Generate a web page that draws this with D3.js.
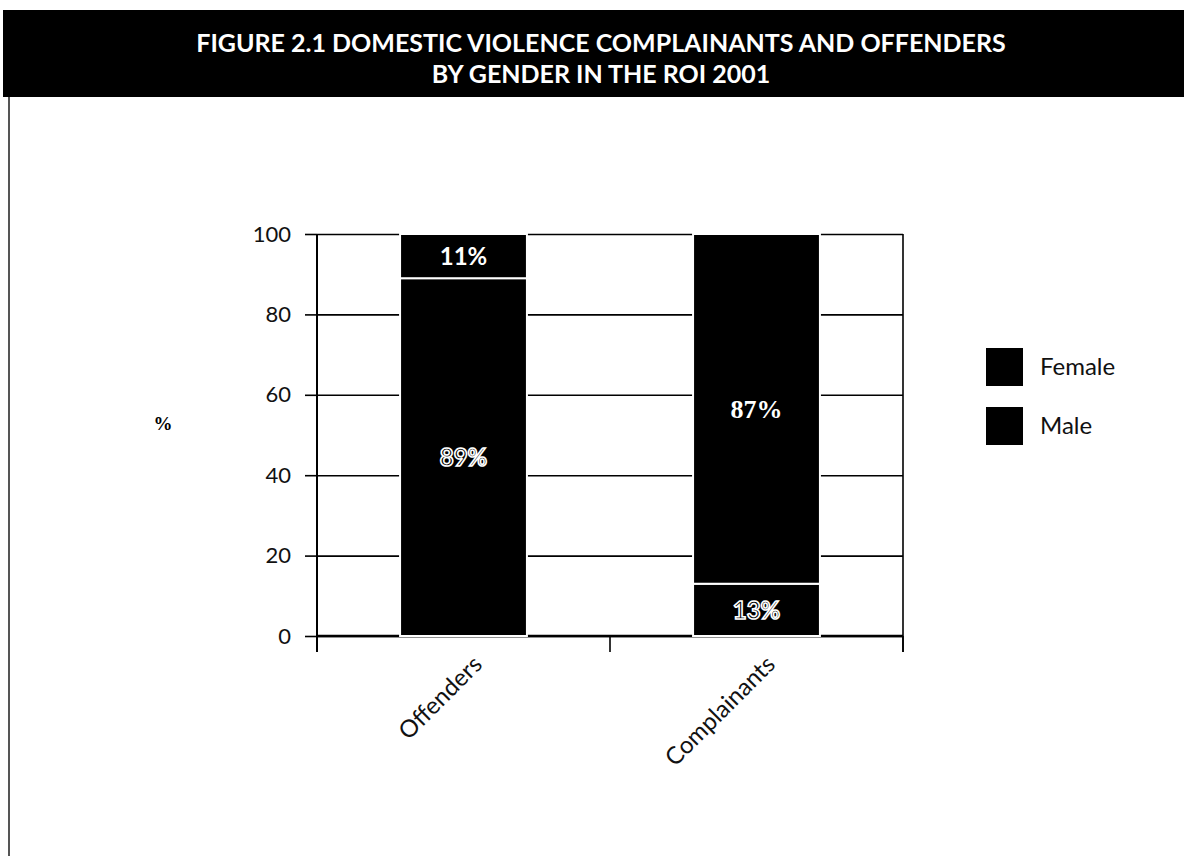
<!DOCTYPE html>
<html>
<head>
<meta charset="utf-8">
<script src="https://cdn.jsdelivr.net/npm/d3@7"></script>
<style>
  body { margin: 0; background: #fff; }
  svg { display: block; }
  .tick text { font-family: Lato, "Open Sans", sans-serif; }
</style>
</head>
<body>
<div id="chart"></div>
<script>
;(function () {
    // data
    const categories = ["Offenders", "Complainants"];
    const maleValues = [89, 13];
    const femaleValues = [11, 87];
    const maleLabels = ["89%", "13%"];
    const femaleLabels = ["11%", "87%"];
    const yTicks = [0, 20, 40, 60, 80, 100];
    const legendNames = ["Female", "Male"];
    const titleLines = ["FIGURE 2.1 DOMESTIC VIOLENCE COMPLAINANTS AND OFFENDERS", "BY GENDER IN THE ROI 2001"];

    const W = 1184, H = 856;
    const plot = { left: 317, right: 903, top: 234, bottom: 636 };

    const svg = d3.select("#chart")
        .append("svg")
        .attr("width", W)
        .attr("height", H);

    // title band
    svg.append("rect")
        .attr("x", 3).attr("y", 10)
        .attr("width", W - 3).attr("height", 87)
        .attr("fill", "#000");

    svg.selectAll(".title")
        .data(titleLines)
        .enter()
        .append("text")
        .attr("class", "title")
        .attr("x", 601)
        .attr("y", (d, i) => 52 + i * 31)
        .attr("text-anchor", "middle")
        .attr("fill", "#fff")
        .style("font-family", "Lato, 'Open Sans', sans-serif")
        .style("font-weight", "bold")
        .style("font-size", "25px")
        .text(d => d);

    // left frame line
    svg.append("line")
        .attr("x1", 9).attr("x2", 9)
        .attr("y1", 97).attr("y2", H)
        .attr("stroke", "#555")
        .attr("stroke-width", 2);

    const x = d3.scaleBand()
        .domain(categories)
        .range([plot.left, plot.right])
        .paddingInner(0.567)
        .paddingOuter(0.2835);

    const y = d3.scaleLinear()
        .domain([0, 100])
        .range([plot.bottom, plot.top]);

    // gridlines
    svg.append("g")
        .attr("class", "grid")
        .attr("transform", "translate(" + plot.left + ",0)")
        .call(d3.axisLeft(y).tickValues(yTicks).tickSize(-(plot.right - plot.left)).tickFormat(""))
        .call(g => g.select(".domain").remove())
        .call(g => g.selectAll("line").attr("stroke", "#000").attr("stroke-width", 1.6));

    // y axis with outside ticks
    svg.append("g")
        .attr("class", "axis y-axis")
        .attr("transform", "translate(" + plot.left + ",0)")
        .call(d3.axisLeft(y).tickValues(yTicks).tickSize(12).tickSizeOuter(0).tickPadding(14))
        .call(g => g.select(".domain").attr("stroke", "#000").attr("stroke-width", 2)
            .attr("d", "M0," + y(100) + "V" + (plot.bottom + 16)))
        .call(g => g.selectAll(".tick line").attr("stroke", "#000").attr("stroke-width", 1.6))
        .call(g => g.selectAll(".tick text").style("font-size", "22px").attr("fill", "#111"));

    // right frame
    svg.append("line")
        .attr("x1", plot.right).attr("x2", plot.right)
        .attr("y1", y(100)).attr("y2", plot.bottom + 16)
        .attr("stroke", "#000").attr("stroke-width", 1.6);

    // x axis: ticks sit on the band boundaries
    const bounds = d3.range(categories.length + 1).map(i => plot.left + i * x.step());
    svg.append("line")
        .attr("x1", plot.left).attr("x2", plot.right)
        .attr("y1", y(0)).attr("y2", y(0))
        .attr("stroke", "#000").attr("stroke-width", 2.4);
    svg.selectAll(".xtick")
        .data(bounds)
        .enter()
        .append("line")
        .attr("class", "xtick")
        .attr("x1", d => d).attr("x2", d => d)
        .attr("y1", y(0)).attr("y2", plot.bottom + 16)
        .attr("stroke", "#000").attr("stroke-width", 1.6);

    svg.selectAll(".x-label")
        .data(categories)
        .enter()
        .append("text")
        .attr("class", "x-label")
        .attr("text-anchor", "end")
        .attr("transform", d => "translate(" + (x(d) + x.bandwidth() / 2 + 20) + "," + (plot.bottom + 30) + ") rotate(-45)")
        .style("font-family", "Lato, 'Open Sans', sans-serif")
        .style("font-size", "24px")
        .attr("fill", "#111")
        .text(d => d);

    // y title
    svg.append("text")
        .attr("x", 163)
        .attr("y", 430)
        .attr("text-anchor", "middle")
        .style("font-family", "'Liberation Serif', 'DejaVu Serif', serif")
        .style("font-weight", "bold")
        .style("font-size", "19px")
        .text("%");

    // stacked bars, male at the bottom
    const rows = categories.map((c, i) => ({ cat: c, male: maleValues[i], female: femaleValues[i] }));
    const stacked = d3.stack().keys(["male", "female"])(rows);

    const layers = svg.selectAll(".layer")
        .data(stacked)
        .enter()
        .append("g")
        .attr("class", "layer");

    layers.selectAll("rect")
        .data(d => d)
        .enter()
        .append("rect")
        .attr("x", d => x(d.data.cat))
        .attr("y", d => y(d[1]))
        .attr("width", x.bandwidth())
        .attr("height", d => y(d[0]) - y(d[1]))
        .attr("fill", "#000")
        .attr("stroke", "#fff")
        .attr("stroke-width", 2);

    // value labels
    const labelText = { male: maleLabels, female: femaleLabels };
    layers.selectAll(".value")
        .data((layer) => layer.map((d, i) => ({ d: d, key: layer.key, i: i })))
        .enter()
        .append("text")
        .attr("class", "value")
        .attr("x", o => x(o.d.data.cat) + x.bandwidth() / 2)
        .attr("y", o => (y(o.d[0]) + y(o.d[1])) / 2)
        .attr("dy", "0.36em")
        .attr("text-anchor", "middle")
        .style("font-weight", "bold")
        .style("font-size", o => (o.key === "female" && o.i === 1) ? "26px" : "24px")
        .style("font-family", o => (o.key === "female" && o.i === 1) ? "'Liberation Serif', serif" : "Lato, 'Open Sans', sans-serif")
        .attr("fill", o => o.key === "male" ? "#000" : "#fff")
        .attr("stroke", o => o.key === "male" ? "#fff" : "none")
        .attr("stroke-width", 1.6)
        .text(o => labelText[o.key][o.i]);

    // legend
    const legend = svg.selectAll(".legend")
        .data(legendNames)
        .enter()
        .append("g")
        .attr("class", "legend")
        .attr("transform", (d, i) => "translate(986," + (348 + i * 59) + ")");

    legend.append("rect")
        .attr("width", 37)
        .attr("height", 38)
        .attr("fill", "#000");

    legend.append("text")
        .attr("x", 54)
        .attr("y", 19)
        .attr("dy", "0.35em")
        .style("font-family", "Lato, 'Open Sans', sans-serif")
        .style("font-size", "24px")
        .attr("fill", "#111")
        .text(d => d);
})()
</script>
</body>
</html>
